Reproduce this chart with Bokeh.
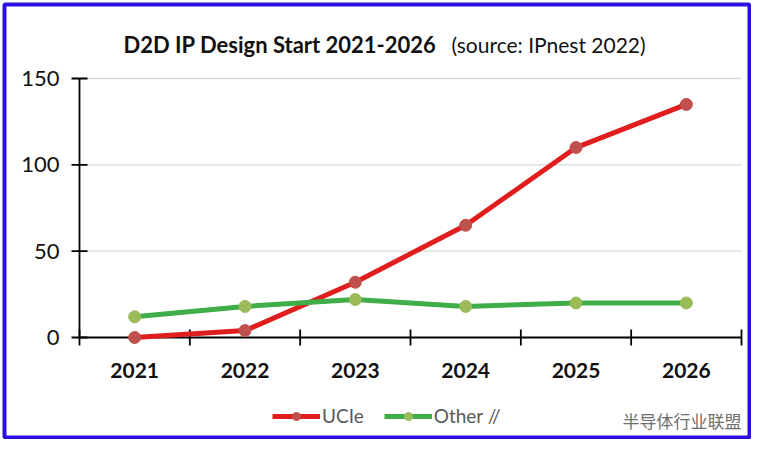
import math
from bokeh.plotting import figure
from bokeh.models import Range1d, Label, Legend, LegendItem, BoxAnnotation
from bokeh.core.properties import value
from bokeh.embed import file_html
from bokeh.resources import INLINE

years = ["2021", "2022", "2023", "2024", "2025", "2026"]
ucie = [0, 4, 32, 65, 110, 135]
other = [12, 18, 22, 18, 20, 20]
y_ticks = [0, 50, 100, 150]
title_main = "D2D  IP Design Start 2021-2026"
title_src = "(source: IPnest 2022)"
watermark = "半导体行业联盟"

FONT = "Lato"
W, H = 751, 439
# plot-area placement in canvas pixels
PX_L, PX_R, PX_T, PX_B = 79, 741, 78, 337

n = len(years)
xs = [i + 1 for i in range(n)]
x_lo, x_hi = 0.5, n + 0.5
y_lo, y_hi = y_ticks[0], y_ticks[-1]
kx = (PX_R - PX_L) / (x_hi - x_lo)
ky = (PX_B - PX_T) / (y_hi - y_lo)

p = figure(width=W, height=H, output_backend="svg", toolbar_location=None,
           x_range=Range1d(x_lo - PX_L / kx, x_hi + (W - PX_R) / kx),
           y_range=Range1d(y_lo - (H - PX_B) / ky, y_hi + PX_T / ky),
           min_border=0, background_fill_color="white", border_fill_color="white")
p.outline_line_color = None
p.xaxis.visible = False
p.yaxis.visible = False
p.xgrid.visible = False
p.ygrid.visible = False

# gridlines
p.segment(x0=[x_lo] * (len(y_ticks) - 1), x1=[x_hi] * (len(y_ticks) - 1),
          y0=y_ticks[1:], y1=y_ticks[1:], line_color="#d9d9d9", line_width=1.3)

# axes
p.segment(x0=[x_lo, x_lo], y0=[y_lo, y_lo], x1=[x_hi, x_lo], y1=[y_lo, y_hi],
          line_color="black", line_width=1.8)
p.scatter([x_lo] * len(y_ticks), y_ticks, marker="dash", size=16,
          line_color="black", line_width=1.8)
bounds = [x - 0.5 for x in xs] + [xs[-1] + 0.5]
p.scatter(bounds, [y_lo] * len(bounds), marker="dash", size=16, angle=math.pi / 2,
          line_color="black", line_width=1.8)
p.text([x_lo] * len(y_ticks), y_ticks, text=[str(t) for t in y_ticks],
       x_offset=-20, text_align="right", text_baseline="middle",
       text_font=value(FONT), text_font_size="22px", text_color="#111111")
p.text(xs, [y_lo] * n, text=years, y_offset=33, text_align="center", text_baseline="middle",
       text_font=value(FONT), text_font_size="21px", text_font_style="bold", text_color="#111111")

# series
r1 = p.line(xs, ucie, line_color="#e01e1e", line_width=5)
s1 = p.scatter(xs, ucie, size=12, fill_color="#c0504d", line_color="#c0504d")
r2 = p.line(xs, other, line_color="#3fae49", line_width=5)
s2 = p.scatter(xs, other, size=12, fill_color="#9bbb59", line_color="#9bbb59")

legend = Legend(items=[LegendItem(label="UCIe", renderers=[r1, s1]),
                       LegendItem(label="Other //", renderers=[r2, s2])],
                location=(272, 12), orientation="horizontal",
                glyph_width=48, glyph_height=20, label_standoff=2, spacing=20,
                padding=0, margin=0, border_line_color=None, background_fill_alpha=0,
                label_text_font=FONT, label_text_font_size="19px", label_text_color="#595959")
p.add_layout(legend, "center")

# title
p.add_layout(Label(x=123, y=H - 44, x_units="screen", y_units="screen", text=title_main,
                   text_font=FONT, text_font_style="bold", text_font_size="22px",
                   text_color="#111111", text_baseline="alphabetic"))
p.add_layout(Label(x=451, y=H - 44, x_units="screen", y_units="screen", text=title_src,
                   text_font=FONT, text_font_size="21px",
                   text_color="#111111", text_baseline="alphabetic"))

# watermark
p.add_layout(Label(x=622, y=H - 420, x_units="screen", y_units="screen", text=watermark,
                   text_font="Noto Sans CJK SC", text_font_size="17px",
                   text_color="#6e6e6e", text_baseline="middle"))

# blue border
p.add_layout(BoxAnnotation(left=4, right=W - 2, top=4, bottom=H - 2,
                           left_units="canvas", right_units="canvas",
                           top_units="canvas", bottom_units="canvas",
                           fill_alpha=0, line_color="#2a10e0", line_alpha=1, line_width=4))

open("out.html", "w").write(file_html(p, INLINE))
